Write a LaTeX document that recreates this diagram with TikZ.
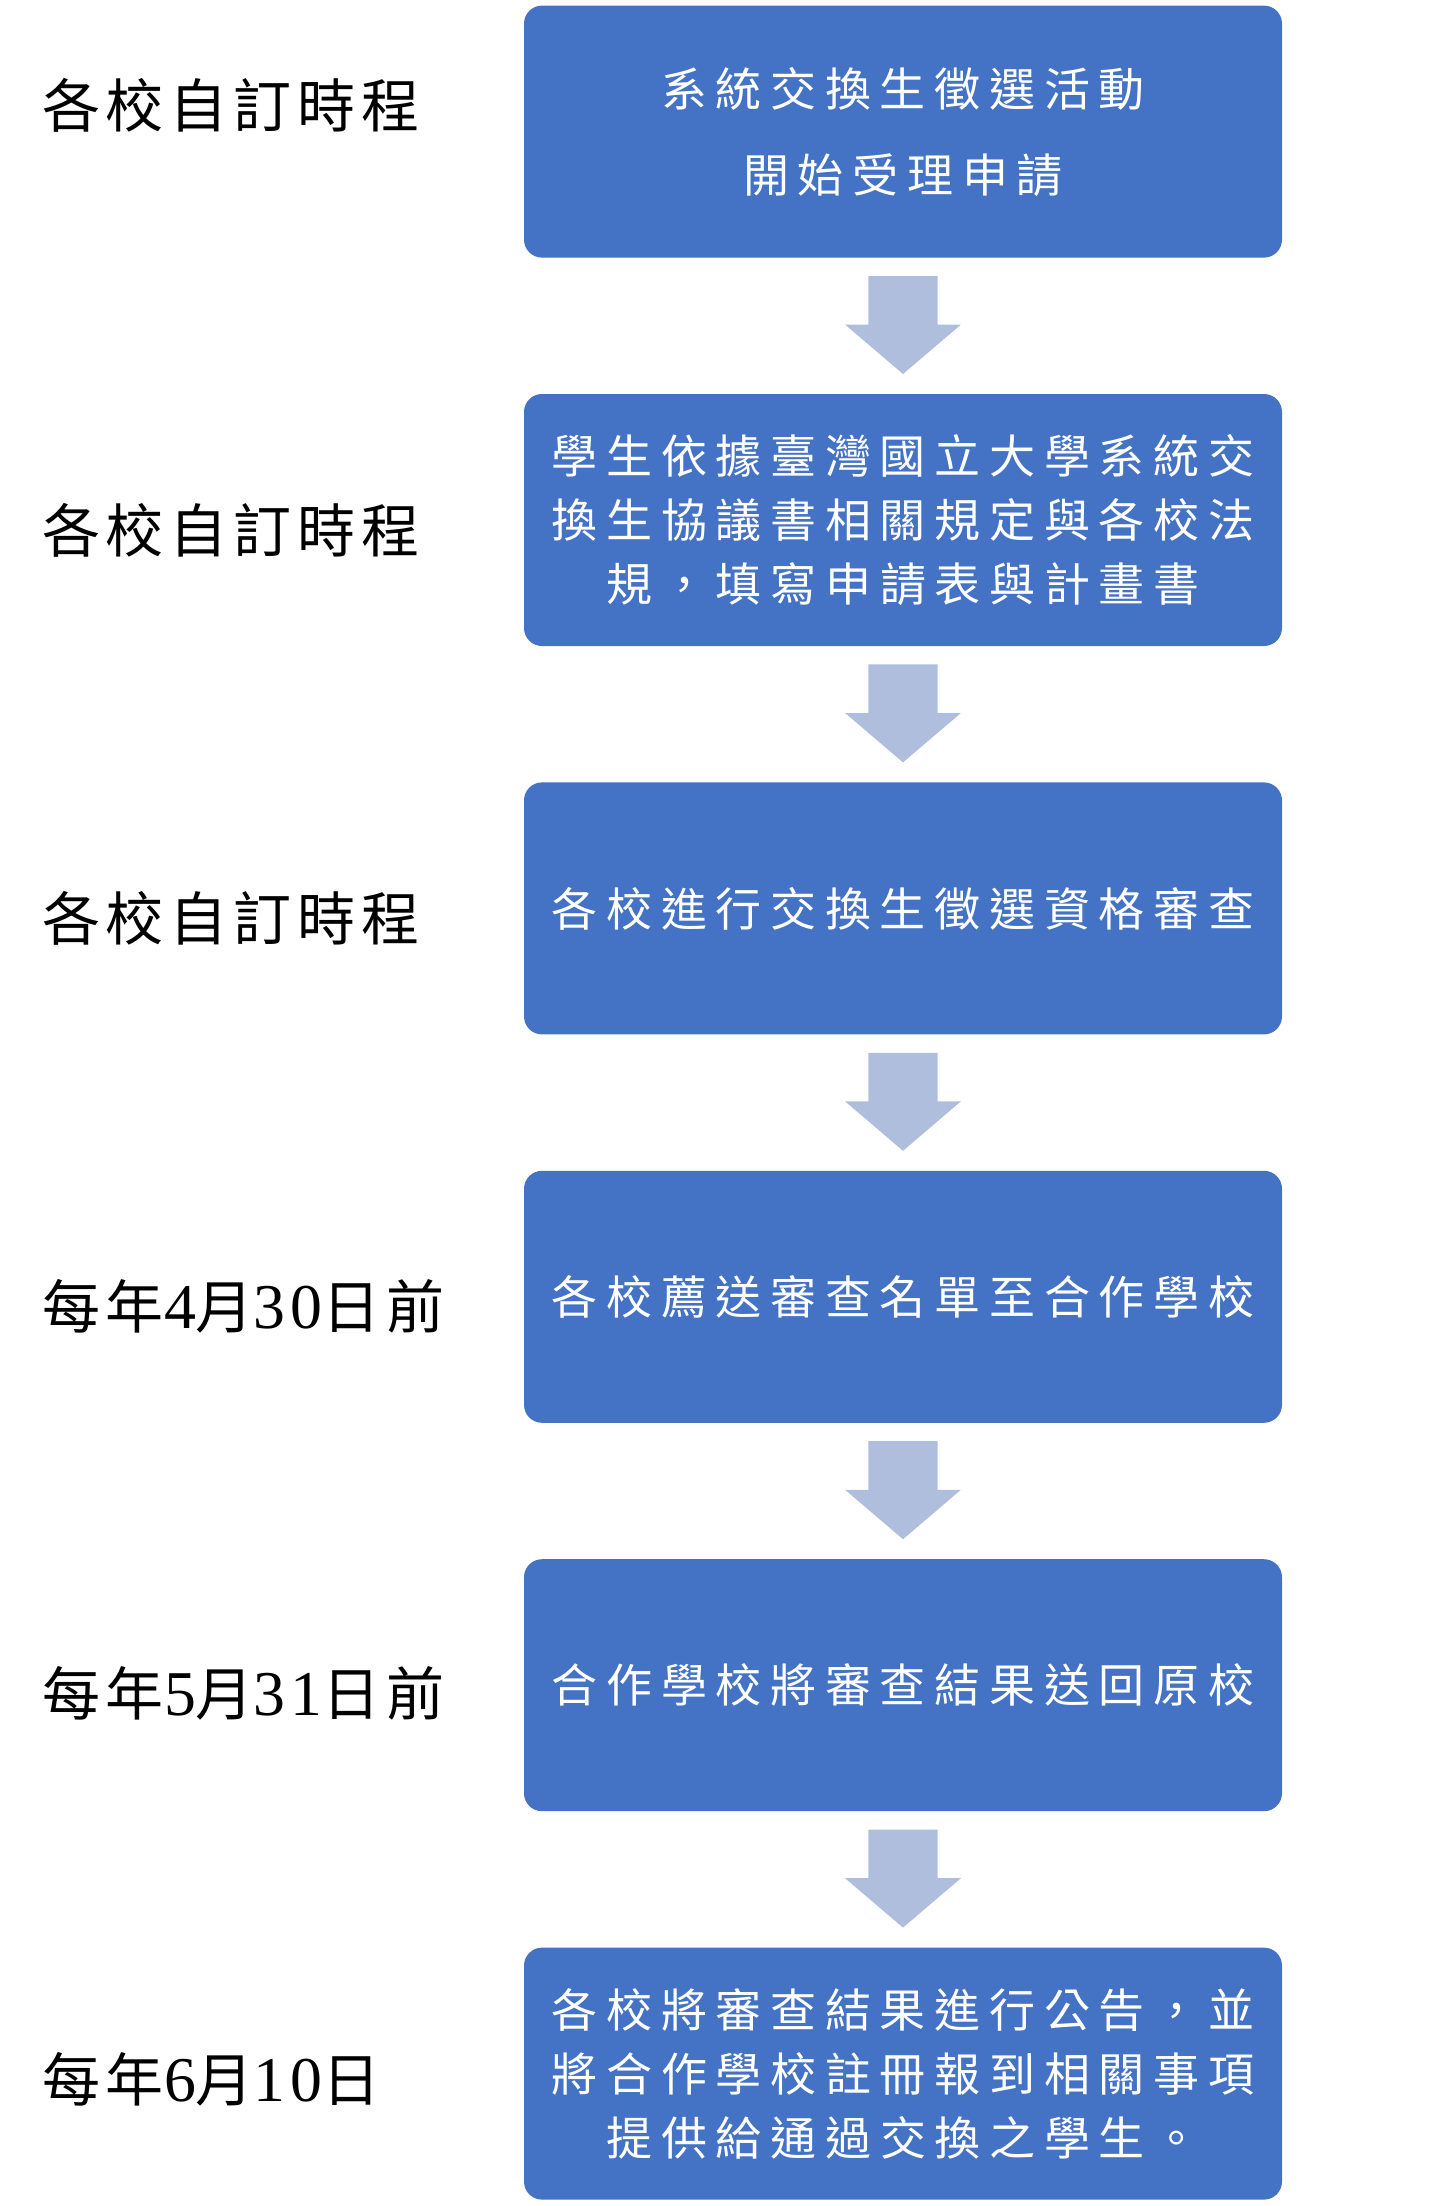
\documentclass[tikz,border=0pt]{standalone}
\usepackage{fontspec}
\usetikzlibrary{positioning, calc}
\newfontfamily\boxfont[LetterSpace=19]{Noto Sans CJK TC}
\newfontfamily\datefont[LetterSpace=10]{Noto Sans CJK TC}
\newfontfamily\numfont[Scale=1.1, LetterSpace=8]{Liberation Serif}
\definecolor{stageblue}{RGB}{68,114,196}
\definecolor{arrowblue}{RGB}{176,190,222}
% block arrow between two stage boxes
\newcommand{\blockarrow}[2]{%
  \fill[arrowblue] ($(#1.south)+(-34.7,-18.4)$) -- ($(#1.south)+(34.7,-18.4)$)
    -- ($(#1.south)+(34.7,-67)$) -- ($(#1.south)+(57.9,-67)$) -- ($(#2.north)+(0,20)$)
    -- ($(#1.south)+(-57.9,-67)$) -- ($(#1.south)+(-34.7,-67)$) -- cycle;}

\begin{document}
\begin{tikzpicture}[x=1pt, y=1pt, node distance=136.4pt,
  stage/.style={fill=stageblue, text=white, rounded corners=18pt, minimum width=758pt,
    minimum height=252pt, inner sep=0pt, outer sep=0pt, align=center,
    font=\boxfont\fontsize{46}{64}\selectfont},
  when/.style={anchor=west, inner sep=0pt, font=\datefont\fontsize{58}{70}\selectfont}]
  \useasboundingbox (0,0) rectangle (1444,-2206);

  \node[stage] (apply) at (903,-131.6) {系統交換生徵選活動\\[22pt]開始受理申請};
  \node[stage, below=of apply] (fill) {學生依據臺灣國立大學系統交\\換生協議書相關規定與各校法\\規，填寫申請表與計畫書};
  \node[stage, below=of fill] (review) {各校進行交換生徵選資格審查};
  \node[stage, below=of review] (send) {各校薦送審查名單至合作學校};
  \node[stage, below=of send] (result) {合作學校將審查結果送回原校};
  \node[stage, below=of result] (notice) {各校將審查結果進行公告，並\\將合作學校註冊報到相關事項\\提供給通過交換之學生。};

  \node[when] (t1) at (42,-105) {各校自訂時程};
  \node[when] (t2) at (42,-530) {各校自訂時程};
  \node[when] (t3) at (42,-918) {各校自訂時程};
  \node[when] (t4) at (42,-1306) {每年{\numfont 4}月{\numfont 30}日前};
  \node[when] (t5) at (42,-1693) {每年{\numfont 5}月{\numfont 31}日前};
  \node[when] (t6) at (42,-2079) {每年{\numfont 6}月{\numfont 10}日};

  \foreach \a/\b in {apply/fill, fill/review, review/send, send/result, result/notice}
    \blockarrow{\a}{\b};
\end{tikzpicture}
\end{document}
